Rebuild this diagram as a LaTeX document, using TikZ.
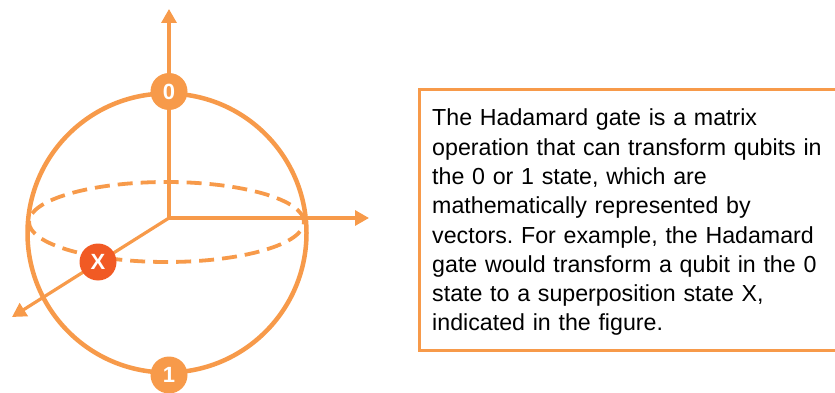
\documentclass[tikz,border=0pt]{standalone}
\usepackage{fontspec}
\setmainfont{Liberation Sans}
\usetikzlibrary{arrows.meta,shapes.geometric}
\definecolor{lorange}{HTML}{F79A4A}
\definecolor{xorange}{HTML}{F15A24}
\frenchspacing
\begin{document}
\begin{tikzpicture}[x=1pt,y=-1pt,
  axis/.style={draw=lorange, line width=3.2pt, -{Triangle[length=14pt,width=15pt]}},
  ballstyle/.style={circle, draw=lorange, line width=4.5pt, minimum size=279pt, inner sep=0pt},
  eqline/.style={ellipse, draw=lorange, line width=3.8pt, dash pattern=on 15pt off 8pt, minimum width=275pt, minimum height=80pt, inner sep=0pt},
  statept/.style={circle, fill=lorange, text=white, font=\bfseries\fontsize{22}{22}\selectfont, minimum size=37pt, inner sep=0pt},
  xpt/.style={statept, fill=xorange},
  frame/.style={draw=lorange, line width=3pt, minimum width=430pt, minimum height=260.8pt, inner sep=0pt, anchor=north west},
  infotext/.style={align=left, text width=410pt, inner sep=0pt, anchor=north west, font=\fontsize{23.2}{29.3}\selectfont}
]
\useasboundingbox (0,0) rectangle (835,393);
\clip (0,0) rectangle (835,393);
% sphere
\node[eqline] (equator) at (166.5,222) {};
\node[ballstyle] (ball) at (167,233) {};
% axes
\coordinate (o) at (169,218);
\coordinate (zt) at (169,9);
\coordinate (yt) at (369,218);
\coordinate (xt) at (12,317);
\draw[axis] (o) -- (zt);
\draw[axis] (o) -- (yt);
\draw[axis] (o) -- (xt);
% states
\node[statept] (s0) at (169,91.5) {0};
\node[statept] (s1) at (169,375) {1};
\node[xpt] (sx) at (98,262) {X};
% text box
\node[frame] (box) at (417.5,88.5) {};
\node[infotext] (info) at (432,108.8) {The Hadamard gate is a matrix\\
operation that can transform qubits in\\
the 0 or 1 state, which are\\
mathematically represented by\\
vectors. For example, the Hadamard\\
gate would transform a qubit in the 0\\
state to a superposition state X,\\
indicated in the figure.};
\end{tikzpicture}
\end{document}
